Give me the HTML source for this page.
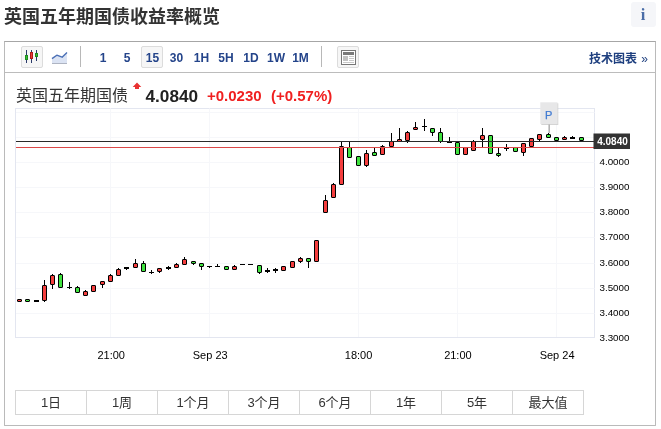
<!DOCTYPE html>
<html lang="zh-CN"><head><meta charset="utf-8"><title>英国五年期国债收益率概览</title>
<style>
html,body{margin:0;padding:0;background:#fff;}
body{width:661px;height:429px;position:relative;overflow:hidden;font-family:"Liberation Sans","Noto Sans CJK SC",sans-serif;color:#333;}
.abs{position:absolute;}
h1{position:absolute;left:4px;top:4px;margin:0;font-size:18px;line-height:26px;font-weight:bold;color:#333;white-space:nowrap;}
.info{position:absolute;left:631px;top:2px;width:25px;height:25px;background:#f5f6f9;border-radius:3px;text-align:center;font-family:"Liberation Serif",serif;font-weight:bold;font-size:16.5px;line-height:26px;color:#4a6da7;text-indent:-1px;}
.box{position:absolute;left:4px;top:41px;width:652px;height:385px;border:1px solid #bababa;border-top-color:#a6a6a6;border-radius:0 0 1px 1px;box-sizing:border-box;}
.tbline{position:absolute;left:5px;top:72px;width:651px;height:1px;background:#bcbcbc;}
.btn{position:absolute;box-sizing:border-box;border:1px solid #dcdcdc;background:#f6f6f6;border-radius:2px;}
.sep{position:absolute;width:1px;background:#b8b8b8;top:46px;height:21px;}
.tf{position:absolute;top:48px;height:20px;line-height:20px;font-weight:bold;font-size:12px;color:#24448a;text-align:center;white-space:nowrap;}
.tech{position:absolute;left:589px;top:49px;height:20px;line-height:20px;font-size:12px;font-weight:bold;color:#1e3f7f;white-space:nowrap;}
.name{position:absolute;left:16px;top:85px;font-size:16px;line-height:22px;color:#333;white-space:nowrap;}
.price{position:absolute;left:145.5px;top:85px;font-size:17.2px;line-height:22px;font-weight:bold;color:#222;white-space:nowrap;}
.chg{position:absolute;top:86px;font-size:15px;line-height:20px;font-weight:bold;color:#f02020;white-space:nowrap;}
.tabs{position:absolute;left:15px;top:390px;height:25px;width:569px;box-sizing:border-box;border:1px solid #d6d6d6;display:flex;}
.tab{flex:0 0 71px;box-sizing:border-box;border-right:1px solid #d6d6d6;text-align:center;font-size:13px;line-height:24px;color:#333;width:71px;}
.tab:last-child{border-right:none;flex:1 1 auto;}
svg text{font-family:"Liberation Sans",sans-serif;}
</style></head><body>
<h1>英国五年期国债收益率概览</h1>
<div class="info">i</div>
<div class="box"></div>
<div class="tbline"></div>

<div class="btn" style="left:21px;top:46px;width:22px;height:22px;"></div>
<svg class="abs" style="left:0;top:40px" width="90" height="32" viewBox="0 40 90 32">
 <g stroke="#2a3a6a" stroke-width="1" fill="none">
  <line x1="26.5" y1="50" x2="26.5" y2="63"/><line x1="31.5" y1="50" x2="31.5" y2="63"/><line x1="36.5" y1="50" x2="36.5" y2="61"/>
 </g>
 <rect x="25.5" y="55.5" width="2" height="4" fill="#35c235" stroke="#1f8a1f" stroke-width="1"/>
 <rect x="30.5" y="52.5" width="2" height="6" fill="#ee3a3a" stroke="#b01c1c" stroke-width="1"/>
 <rect x="35.5" y="53.5" width="2" height="3" fill="#35c235" stroke="#1f8a1f" stroke-width="1"/>
 <path d="M52 58.6 L56.8 55.2 L62.1 57.2 L67 52.6 L67 63 L52 63 Z" fill="#dbe3f3"/>
 <path d="M52 58.6 L56.8 55.2 L62.1 57.2 L67 52.6" fill="none" stroke="#4a6fb5" stroke-width="1.4" stroke-linejoin="round"/>
 <line x1="52" y1="63.5" x2="67" y2="63.5" stroke="#aeb4c2" stroke-width="1"/>
</svg>
<div class="sep" style="left:80px"></div>
<div class="tf" style="left:93px;width:20px;">1</div>
<div class="tf" style="left:117px;width:20px;">5</div>
<div class="btn" style="left:141px;top:46px;width:22px;height:22px;"></div>
<div class="tf" style="left:141px;width:23px;">15</div>
<div class="tf" style="left:165px;width:23px;">30</div>
<div class="tf" style="left:190px;width:23px;">1H</div>
<div class="tf" style="left:214px;width:24px;">5H</div>
<div class="tf" style="left:239px;width:24px;">1D</div>
<div class="tf" style="left:263px;width:26px;">1W</div>
<div class="tf" style="left:288px;width:25px;">1M</div>
<div class="sep" style="left:321px"></div>
<div class="btn" style="left:337px;top:46px;width:22px;height:22px;"></div>
<svg class="abs" style="left:337px;top:46px" width="22" height="22" viewBox="337 46 22 22">
 <rect x="341.5" y="50.5" width="14" height="14" fill="#fff" stroke="#777" stroke-width="1"/>
 <rect x="343" y="52" width="11" height="3" fill="#7a7a7a"/>
 <rect x="343" y="56" width="5" height="5" fill="#c2c2c2"/>
 <g stroke="#c8c8c8" stroke-width="1"><line x1="349" y1="56.5" x2="354" y2="56.5"/><line x1="349" y1="58.5" x2="354" y2="58.5"/><line x1="349" y1="60.5" x2="354" y2="60.5"/><line x1="343" y1="62.5" x2="354" y2="62.5"/></g>
</svg>
<div class="tech">技术图表 <span style="font-weight:normal;margin-left:1px">»</span></div>

<div class="name">英国五年期国债</div>
<svg class="abs" style="left:130px;top:80px" width="14" height="12" viewBox="130 80 14 12"><path d="M137 82.4 L141.3 86.9 L139 86.9 L139 89 L135 89 L135 86.9 L132.7 86.9 Z" fill="#e93232"/></svg>
<div class="price">4.0840</div>
<div class="chg" style="left:207px">+0.0230</div>
<div class="chg" style="left:271px">(+0.57%)</div>

<svg class="abs" style="left:0;top:0" width="661" height="429" viewBox="0 0 661 429">
<rect x="15.5" y="108.5" width="579" height="229" fill="none" stroke="#e3e6f0" stroke-width="1"/>
<line x1="16" x2="594.5" y1="112.5" y2="112.5" stroke="#f6f7fa" stroke-width="1"/>
<line x1="16" x2="594.5" y1="137.5" y2="137.5" stroke="#f6f7fa" stroke-width="1"/>
<line x1="16" x2="594.5" y1="162.5" y2="162.5" stroke="#f6f7fa" stroke-width="1"/>
<line x1="16" x2="594.5" y1="187.5" y2="187.5" stroke="#f6f7fa" stroke-width="1"/>
<line x1="16" x2="594.5" y1="212.5" y2="212.5" stroke="#f6f7fa" stroke-width="1"/>
<line x1="16" x2="594.5" y1="237.5" y2="237.5" stroke="#f6f7fa" stroke-width="1"/>
<line x1="16" x2="594.5" y1="263.5" y2="263.5" stroke="#f6f7fa" stroke-width="1"/>
<line x1="16" x2="594.5" y1="288.5" y2="288.5" stroke="#f6f7fa" stroke-width="1"/>
<line x1="16" x2="594.5" y1="313.5" y2="313.5" stroke="#f6f7fa" stroke-width="1"/>
<line x1="110.5" x2="110.5" y1="108.5" y2="337" stroke="#f6f7fa" stroke-width="1"/>
<line x1="209.5" x2="209.5" y1="108.5" y2="337" stroke="#f6f7fa" stroke-width="1"/>
<line x1="358.5" x2="358.5" y1="108.5" y2="337" stroke="#f6f7fa" stroke-width="1"/>
<line x1="457.5" x2="457.5" y1="108.5" y2="337" stroke="#f6f7fa" stroke-width="1"/>
<line x1="556.5" x2="556.5" y1="108.5" y2="337" stroke="#f6f7fa" stroke-width="1"/>
<rect x="17.5" y="299.5" width="4" height="2" rx="0.4" fill="#f43e3e" stroke="#000" stroke-width="1"/>
<rect x="25.5" y="299.5" width="4" height="2" rx="0.4" fill="#3fe23f" stroke="#000" stroke-width="1"/>
<rect x="34" y="300" width="5" height="2" fill="#000"/>
<line x1="44.5" x2="44.5" y1="280" y2="302" stroke="#000" stroke-width="1"/>
<rect x="42.5" y="285.5" width="4" height="15" rx="0.4" fill="#f43e3e" stroke="#000" stroke-width="1"/>
<line x1="52.5" x2="52.5" y1="274" y2="289" stroke="#000" stroke-width="1"/>
<rect x="50.5" y="275.5" width="4" height="9" rx="0.4" fill="#f43e3e" stroke="#000" stroke-width="1"/>
<line x1="60.5" x2="60.5" y1="273" y2="288" stroke="#000" stroke-width="1"/>
<rect x="58.5" y="274.5" width="4" height="13" rx="0.4" fill="#3fe23f" stroke="#000" stroke-width="1"/>
<line x1="69.5" x2="69.5" y1="282" y2="289" stroke="#000" stroke-width="1"/>
<line x1="67" x2="72" y1="287.5" y2="287.5" stroke="#000" stroke-width="1"/>
<line x1="77.5" x2="77.5" y1="286" y2="293" stroke="#000" stroke-width="1"/>
<rect x="75.5" y="287.5" width="4" height="5" rx="0.4" fill="#3fe23f" stroke="#000" stroke-width="1"/>
<line x1="85.5" x2="85.5" y1="290" y2="296" stroke="#000" stroke-width="1"/>
<rect x="83.5" y="291.5" width="4" height="4" rx="0.4" fill="#f43e3e" stroke="#000" stroke-width="1"/>
<rect x="91.5" y="285.5" width="4" height="6" rx="0.4" fill="#f43e3e" stroke="#000" stroke-width="1"/>
<line x1="102.5" x2="102.5" y1="282" y2="288" stroke="#000" stroke-width="1"/>
<rect x="100.5" y="281.5" width="4" height="3" rx="0.4" fill="#f43e3e" stroke="#000" stroke-width="1"/>
<line x1="110.5" x2="110.5" y1="274" y2="281" stroke="#000" stroke-width="1"/>
<rect x="108.5" y="275.5" width="4" height="6" rx="0.4" fill="#f43e3e" stroke="#000" stroke-width="1"/>
<line x1="118.5" x2="118.5" y1="268" y2="276" stroke="#000" stroke-width="1"/>
<rect x="116.5" y="269.5" width="4" height="6" rx="0.4" fill="#f43e3e" stroke="#000" stroke-width="1"/>
<line x1="126.5" x2="126.5" y1="267" y2="270" stroke="#000" stroke-width="1"/>
<rect x="124" y="267" width="5" height="2" fill="#000"/>
<line x1="135.5" x2="135.5" y1="259" y2="268" stroke="#000" stroke-width="1"/>
<rect x="133.5" y="263.5" width="4" height="4" rx="0.4" fill="#f43e3e" stroke="#000" stroke-width="1"/>
<line x1="143.5" x2="143.5" y1="261" y2="272" stroke="#000" stroke-width="1"/>
<rect x="141.5" y="263.5" width="4" height="8" rx="0.4" fill="#3fe23f" stroke="#000" stroke-width="1"/>
<line x1="151.5" x2="151.5" y1="270" y2="274" stroke="#000" stroke-width="1"/>
<line x1="149" x2="154" y1="272.5" y2="272.5" stroke="#000" stroke-width="1"/>
<line x1="159.5" x2="159.5" y1="268" y2="273" stroke="#000" stroke-width="1"/>
<rect x="157.5" y="268.5" width="4" height="3" rx="0.4" fill="#f43e3e" stroke="#000" stroke-width="1"/>
<line x1="168.5" x2="168.5" y1="266" y2="270" stroke="#000" stroke-width="1"/>
<rect x="166" y="267" width="5" height="2" fill="#000"/>
<line x1="176.5" x2="176.5" y1="263" y2="268" stroke="#000" stroke-width="1"/>
<rect x="174.5" y="264.5" width="4" height="3" rx="0.4" fill="#f43e3e" stroke="#000" stroke-width="1"/>
<line x1="184.5" x2="184.5" y1="257" y2="264" stroke="#000" stroke-width="1"/>
<rect x="182.5" y="259.5" width="4" height="5" rx="0.4" fill="#f43e3e" stroke="#000" stroke-width="1"/>
<line x1="193.5" x2="193.5" y1="261" y2="265" stroke="#000" stroke-width="1"/>
<rect x="191.5" y="261.5" width="4" height="2" rx="0.4" fill="#3fe23f" stroke="#000" stroke-width="1"/>
<line x1="201.5" x2="201.5" y1="264" y2="270" stroke="#000" stroke-width="1"/>
<rect x="199.5" y="263.5" width="4" height="3" rx="0.4" fill="#3fe23f" stroke="#000" stroke-width="1"/>
<line x1="209.5" x2="209.5" y1="267" y2="268" stroke="#000" stroke-width="1"/>
<line x1="207" x2="212" y1="266.5" y2="266.5" stroke="#000" stroke-width="1"/>
<line x1="217.5" x2="217.5" y1="264" y2="267" stroke="#000" stroke-width="1"/>
<line x1="215" x2="220" y1="266.5" y2="266.5" stroke="#000" stroke-width="1"/>
<rect x="224.5" y="266.5" width="4" height="3" rx="0.4" fill="#3fe23f" stroke="#000" stroke-width="1"/>
<line x1="234.5" x2="234.5" y1="265" y2="270" stroke="#000" stroke-width="1"/>
<rect x="232.5" y="266.5" width="4" height="3" rx="0.4" fill="#f43e3e" stroke="#000" stroke-width="1"/>
<line x1="240" x2="245" y1="264.5" y2="264.5" stroke="#000" stroke-width="1"/>
<line x1="248" x2="253" y1="264.5" y2="264.5" stroke="#000" stroke-width="1"/>
<line x1="259.5" x2="259.5" y1="265" y2="274" stroke="#000" stroke-width="1"/>
<rect x="257.5" y="265.5" width="4" height="7" rx="0.4" fill="#3fe23f" stroke="#000" stroke-width="1"/>
<line x1="267.5" x2="267.5" y1="268" y2="273" stroke="#000" stroke-width="1"/>
<rect x="265" y="270" width="5" height="2" fill="#000"/>
<line x1="275.5" x2="275.5" y1="268" y2="273" stroke="#000" stroke-width="1"/>
<rect x="273" y="269" width="5" height="2" fill="#000"/>
<rect x="281.5" y="266.5" width="4" height="4" rx="0.4" fill="#f43e3e" stroke="#000" stroke-width="1"/>
<rect x="290.5" y="261.5" width="4" height="6" rx="0.4" fill="#f43e3e" stroke="#000" stroke-width="1"/>
<line x1="300.5" x2="300.5" y1="257" y2="263" stroke="#000" stroke-width="1"/>
<rect x="298.5" y="258.5" width="4" height="3" rx="0.4" fill="#f43e3e" stroke="#000" stroke-width="1"/>
<line x1="308.5" x2="308.5" y1="258" y2="268" stroke="#000" stroke-width="1"/>
<rect x="306.5" y="258.5" width="4" height="3" rx="0.4" fill="#3fe23f" stroke="#000" stroke-width="1"/>
<rect x="314.5" y="240.5" width="4" height="21" rx="0.4" fill="#f43e3e" stroke="#000" stroke-width="1"/>
<line x1="325.5" x2="325.5" y1="195" y2="213" stroke="#000" stroke-width="1"/>
<rect x="323.5" y="200.5" width="4" height="12" rx="0.4" fill="#f43e3e" stroke="#000" stroke-width="1"/>
<line x1="333.5" x2="333.5" y1="183" y2="197" stroke="#000" stroke-width="1"/>
<rect x="331.5" y="184.5" width="4" height="13" rx="0.4" fill="#f43e3e" stroke="#000" stroke-width="1"/>
<line x1="341.5" x2="341.5" y1="141" y2="184" stroke="#000" stroke-width="1"/>
<rect x="339.5" y="146.5" width="4" height="38" rx="0.4" fill="#f43e3e" stroke="#000" stroke-width="1"/>
<line x1="349.5" x2="349.5" y1="141" y2="157" stroke="#000" stroke-width="1"/>
<rect x="347.5" y="147.5" width="4" height="10" rx="0.4" fill="#3fe23f" stroke="#000" stroke-width="1"/>
<rect x="356.5" y="156.5" width="4" height="9" rx="0.4" fill="#3fe23f" stroke="#000" stroke-width="1"/>
<line x1="366.5" x2="366.5" y1="150" y2="167" stroke="#000" stroke-width="1"/>
<rect x="364.5" y="153.5" width="4" height="12" rx="0.4" fill="#f43e3e" stroke="#000" stroke-width="1"/>
<line x1="374.5" x2="374.5" y1="148" y2="155" stroke="#000" stroke-width="1"/>
<rect x="372.5" y="152.5" width="4" height="3" rx="0.4" fill="#3fe23f" stroke="#000" stroke-width="1"/>
<line x1="382.5" x2="382.5" y1="145" y2="154" stroke="#000" stroke-width="1"/>
<rect x="380.5" y="146.5" width="4" height="8" rx="0.4" fill="#f43e3e" stroke="#000" stroke-width="1"/>
<line x1="391.5" x2="391.5" y1="133" y2="146" stroke="#000" stroke-width="1"/>
<rect x="389.5" y="141.5" width="4" height="5" rx="0.4" fill="#f43e3e" stroke="#000" stroke-width="1"/>
<line x1="399.5" x2="399.5" y1="128" y2="141" stroke="#000" stroke-width="1"/>
<rect x="397.5" y="139.5" width="4" height="2" rx="0.4" fill="#f43e3e" stroke="#000" stroke-width="1"/>
<line x1="407.5" x2="407.5" y1="131" y2="143" stroke="#000" stroke-width="1"/>
<rect x="405.5" y="132.5" width="4" height="8" rx="0.4" fill="#f43e3e" stroke="#000" stroke-width="1"/>
<line x1="415.5" x2="415.5" y1="122" y2="129" stroke="#000" stroke-width="1"/>
<rect x="413.5" y="127.5" width="4" height="2" rx="0.4" fill="#f43e3e" stroke="#000" stroke-width="1"/>
<line x1="424.5" x2="424.5" y1="119" y2="131" stroke="#000" stroke-width="1"/>
<line x1="422" x2="427" y1="126.5" y2="126.5" stroke="#000" stroke-width="1"/>
<line x1="432.5" x2="432.5" y1="128" y2="136" stroke="#000" stroke-width="1"/>
<rect x="430.5" y="128.5" width="4" height="4" rx="0.4" fill="#3fe23f" stroke="#000" stroke-width="1"/>
<line x1="440.5" x2="440.5" y1="128" y2="143" stroke="#000" stroke-width="1"/>
<rect x="438.5" y="132.5" width="4" height="9" rx="0.4" fill="#3fe23f" stroke="#000" stroke-width="1"/>
<line x1="449.5" x2="449.5" y1="137" y2="142" stroke="#000" stroke-width="1"/>
<line x1="447" x2="452" y1="142.5" y2="142.5" stroke="#000" stroke-width="1"/>
<rect x="455.5" y="142.5" width="4" height="12" rx="0.4" fill="#3fe23f" stroke="#000" stroke-width="1"/>
<rect x="463.5" y="147.5" width="4" height="7" rx="0.4" fill="#f43e3e" stroke="#000" stroke-width="1"/>
<line x1="473.5" x2="473.5" y1="140" y2="150" stroke="#000" stroke-width="1"/>
<rect x="471.5" y="141.5" width="4" height="9" rx="0.4" fill="#f43e3e" stroke="#000" stroke-width="1"/>
<line x1="482.5" x2="482.5" y1="128" y2="147" stroke="#000" stroke-width="1"/>
<rect x="480.5" y="135.5" width="4" height="4" rx="0.4" fill="#f43e3e" stroke="#000" stroke-width="1"/>
<rect x="488.5" y="135.5" width="4" height="18" rx="0.4" fill="#3fe23f" stroke="#000" stroke-width="1"/>
<line x1="498.5" x2="498.5" y1="148" y2="157" stroke="#000" stroke-width="1"/>
<rect x="496.5" y="153.5" width="4" height="2" rx="0.4" fill="#3fe23f" stroke="#000" stroke-width="1"/>
<line x1="506.5" x2="506.5" y1="144" y2="151" stroke="#000" stroke-width="1"/>
<line x1="504" x2="509" y1="148.5" y2="148.5" stroke="#000" stroke-width="1"/>
<rect x="513.5" y="147.5" width="4" height="4" rx="0.4" fill="#3fe23f" stroke="#000" stroke-width="1"/>
<line x1="523.5" x2="523.5" y1="144" y2="156" stroke="#000" stroke-width="1"/>
<rect x="521.5" y="143.5" width="4" height="9" rx="0.4" fill="#f43e3e" stroke="#000" stroke-width="1"/>
<rect x="529.5" y="138.5" width="4" height="8" rx="0.4" fill="#f43e3e" stroke="#000" stroke-width="1"/>
<line x1="539.5" x2="539.5" y1="134" y2="141" stroke="#000" stroke-width="1"/>
<rect x="537.5" y="134.5" width="4" height="5" rx="0.4" fill="#f43e3e" stroke="#000" stroke-width="1"/>
<line x1="548.5" x2="548.5" y1="133" y2="135" stroke="#000" stroke-width="1"/>
<rect x="546.5" y="134.5" width="4" height="3" rx="0.4" fill="#3fe23f" stroke="#000" stroke-width="1"/>
<rect x="554.5" y="137.5" width="4" height="3" rx="0.4" fill="#3fe23f" stroke="#000" stroke-width="1"/>
<line x1="564.5" x2="564.5" y1="136" y2="139" stroke="#000" stroke-width="1"/>
<rect x="562.5" y="137.5" width="4" height="2" rx="0.4" fill="#f43e3e" stroke="#000" stroke-width="1"/>
<line x1="572.5" x2="572.5" y1="136" y2="139" stroke="#000" stroke-width="1"/>
<rect x="570" y="137" width="5" height="2" fill="#000"/>
<rect x="579.5" y="137.5" width="4" height="3" rx="0.4" fill="#3fe23f" stroke="#000" stroke-width="1"/>
<line x1="16" x2="594" y1="141.5" y2="141.5" stroke="#2a2a2a" stroke-width="1.1"/>
<line x1="16" x2="594" y1="147.5" y2="147.5" stroke="#dc4848" stroke-width="1.1"/>
<!-- P flag -->
<line x1="549.2" x2="549.2" y1="124" y2="133" stroke="#b4b4b4" stroke-width="1.6"/>
<rect x="541.3" y="103.3" width="17" height="21.7" fill="#c6c6c6" opacity="0.75"/>
<rect x="540.3" y="102.3" width="17.2" height="21.7" fill="#e7e7e8"/>
<text x="548.7" y="118.8" font-size="11" text-anchor="middle" fill="#3f7ad2" stroke="#3f7ad2" stroke-width="0.25">P</text>
<text x="599.5" y="165.0" font-size="9.8" fill="#000">4.0000</text>
<text x="599.5" y="190.0" font-size="9.8" fill="#000">3.9000</text>
<text x="599.5" y="215.0" font-size="9.8" fill="#000">3.8000</text>
<text x="599.5" y="240.0" font-size="9.8" fill="#000">3.7000</text>
<text x="599.5" y="266.0" font-size="9.8" fill="#000">3.6000</text>
<text x="599.5" y="291.0" font-size="9.8" fill="#000">3.5000</text>
<text x="599.5" y="316.0" font-size="9.8" fill="#000">3.4000</text>
<text x="599.5" y="341.0" font-size="9.8" fill="#000">3.3000</text>

<text x="599.5" y="140" font-size="9.8" fill="#000">4.1000</text>
<rect x="593.5" y="133.5" width="36.5" height="15.5" fill="#333"/>
<text x="597.2" y="145" font-size="10" font-weight="bold" fill="#fff">4.0840</text>
<text x="111.2" y="359" font-size="11" text-anchor="middle" fill="#000">21:00</text>
<text x="210.2" y="359" font-size="11" text-anchor="middle" fill="#000">Sep 23</text>
<text x="358.6" y="359" font-size="11" text-anchor="middle" fill="#000">18:00</text>
<text x="457.9" y="359" font-size="11" text-anchor="middle" fill="#000">21:00</text>
<text x="557.1" y="359" font-size="11" text-anchor="middle" fill="#000">Sep 24</text>

</svg>
<div class="tabs"><div class="tab">1日</div><div class="tab">1周</div><div class="tab">1个月</div><div class="tab">3个月</div><div class="tab">6个月</div><div class="tab">1年</div><div class="tab">5年</div><div class="tab">最大值</div></div>
</body></html>
